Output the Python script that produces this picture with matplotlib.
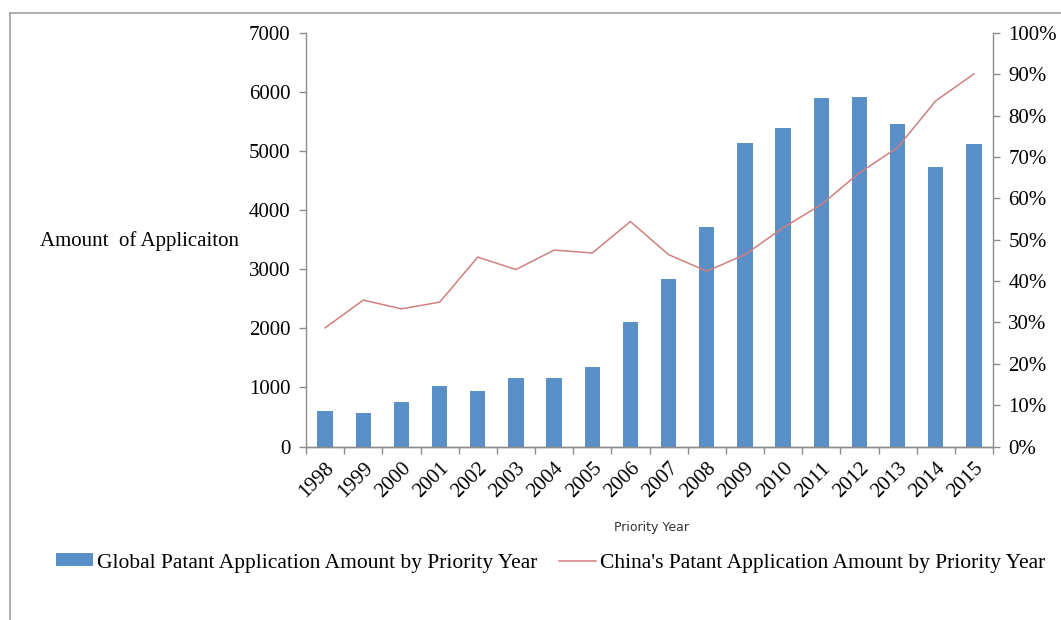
import numpy as np
import matplotlib.pyplot as plt
from matplotlib.lines import Line2D
from matplotlib.ticker import FuncFormatter

years = ['1998', '1999', '2000', '2001', '2002', '2003', '2004', '2005', '2006',
         '2007', '2008', '2009', '2010', '2011', '2012', '2013', '2014', '2015']
# global applications per priority year (left axis)
global_amount = [609, 565, 752, 1028, 938, 1163, 1163, 1349, 2106,
                 2844, 3714, 5136, 5390, 5898, 5925, 5463, 4730, 5119]
# China's share (right axis, fraction)
china_share = [0.287, 0.354, 0.333, 0.349, 0.458, 0.428, 0.475, 0.468, 0.544,
               0.464, 0.424, 0.464, 0.529, 0.585, 0.662, 0.723, 0.836, 0.901]

plt.rcParams['font.family'] = ['Liberation Serif', 'DejaVu Serif']

fig = plt.figure(figsize=(10.61, 6.2), dpi=100)
ax = fig.add_axes([306 / 1061, 1 - 446.5 / 620, (993 - 306) / 1061, (446.5 - 33) / 620])
ax2 = ax.twinx()

x = np.arange(len(years))
bars = ax.bar(x, global_amount, width=0.4, color='#5B8FC8', zorder=2,
              label='Global Patant Application Amount by Priority Year')
line, = ax2.plot(x, china_share, color='#D0807E', lw=1.1,
                 label="China's Patant Application Amount by Priority Year")

ax.set_xlim(-0.5, len(years) - 0.5)
ax.set_ylim(0, 7000)
ax.set_yticks(range(0, 7001, 1000))
ax2.set_ylim(0, 1)
ax2.set_yticks(np.arange(0, 1.01, 0.1))
ax2.yaxis.set_major_formatter(FuncFormatter(lambda v, p: '%d%%' % round(v * 100)))

gray = '#8C8C8C'
for a in (ax, ax2):
    a.spines['top'].set_visible(False)
    for s in ('left', 'right', 'bottom'):
        a.spines[s].set_color(gray)
        a.spines[s].set_linewidth(1.0)
    a.tick_params(axis='y', colors=gray, length=5, width=1, labelsize=15,
                  labelcolor='black', pad=6)
ax.spines['right'].set_visible(False)
ax2.spines['left'].set_visible(False)

# year labels at centers, tick marks at category boundaries
ax.set_xticks(x)
ax.set_xticklabels(years, rotation=45, ha='right', rotation_mode='anchor', fontsize=15)
ax.tick_params(axis='x', which='major', length=0, pad=9)
ax.set_xticks(np.arange(-0.5, len(years)), minor=True)
ax.tick_params(axis='x', which='minor', length=5, width=1, colors=gray)

ax.set_xlabel('Priority Year', family='DejaVu Sans', fontsize=9, color='#333333')
ax.xaxis.set_label_coords(0.503, -0.18)

fig.text(40 / 1061, 1 - 241 / 620, 'Amount  of Applicaiton', fontsize=15,
         ha='left', va='center')

fig.legend(handles=[bars, line], loc='center', bbox_to_anchor=(0.519, 1 - 563 / 620),
           ncol=2, frameon=False, fontsize=15.5, handlelength=1.7, handleheight=0.55,
           columnspacing=1.0, handletextpad=0.2)

# outer border of the chart area
fig.add_artist(Line2D([10 / 1061, 10 / 1061], [0, 1 - 13 / 620], color='#A0A0A0', lw=1.2))
fig.add_artist(Line2D([10 / 1061, 1], [1 - 13 / 620, 1 - 13 / 620], color='#A0A0A0', lw=1.2))

fig.savefig('out.png', dpi=100)
